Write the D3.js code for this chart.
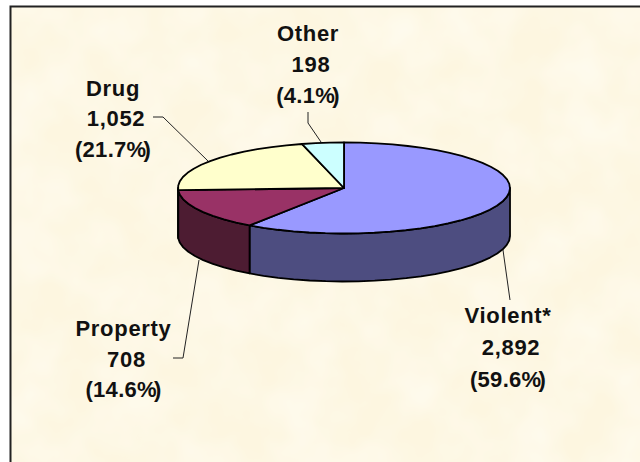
<!DOCTYPE html>
<html>
<head>
<meta charset="utf-8">
<script src="https://d3js.org/d3.v7.min.js"></script>
<style>
html, body { margin: 0; padding: 0; background: #fff; }
text { font-family: "Liberation Sans", Arial, sans-serif; font-weight: bold; font-size: 22px; fill: #111; text-anchor: middle; letter-spacing: 0.7px; }
</style>
</head>
<body>
<svg id="chart" width="640" height="462"></svg>
<script>
const categories = ['Violent*', 'Property', 'Drug', 'Other']
const counts = [2892, 708, 1052, 198]
const countLabels = ['2,892', '708', '1,052', '198']
const percentLabels = ['(59.6%)', '(14.6%)', '(21.7%)', '(4.1%)']
const topColors = ['#9999ff', '#993366', '#ffffcc', '#ccffff']
const sideColors = ['#4d4d80', '#4d1a33', '#80805f', '#668080']

const width = 640, height = 462
const cx = 344, cy = 188, rx = 166, ry = 45.5, depth = 48

const svg = d3.select('#chart')

// paper texture
const defs = svg.append('defs')
const paper = defs.append('filter').attr('id', 'paper')
    .attr('x', 0).attr('y', 0).attr('width', '100%').attr('height', '100%')
paper.append('feTurbulence').attr('type', 'fractalNoise')
    .attr('baseFrequency', 0.018).attr('numOctaves', 3).attr('seed', 7)
paper.append('feColorMatrix').attr('type', 'matrix')
    .attr('values', '0 0 0 0 1  0 0 0 0 0.99  0 0 0 0 0.93  1.0 0 0 0 -0.3')
const soft = defs.append('filter').attr('id', 'soft')
soft.append('feGaussianBlur').attr('stdDeviation', 0.35)

svg.append('rect').attr('x', 11).attr('y', 7).attr('width', width).attr('height', height).attr('fill', '#fdf6e0')
svg.append('rect').attr('x', 11).attr('y', 7).attr('width', width).attr('height', height).attr('filter', 'url(#paper)')
svg.append('path').attr('d', `M10.5,${height}V6.5H${width}`)
    .attr('fill', 'none').attr('stroke', '#222').attr('stroke-width', 2)

const pie = d3.pie().sort(null).value(d => d)
const slices = pie(counts)

// 0 is twelve o'clock, going clockwise, same as d3.pie
const px = a => cx + rx * Math.sin(a)
const py = a => cy - ry * Math.cos(a)
const line = d3.line()

// a little polygonal like the original rim
const rim = (a0, a1) => {
    const n = Math.max(1, Math.round((a1 - a0) / (Math.PI / 32)))
    return d3.range(n + 1).map(i => a0 + (a1 - a0) * i / n)
}

const g = svg.append('g').attr('filter', 'url(#soft)')

// walls, only the front half shows
slices.forEach((s, i) => {
    const a0 = Math.max(s.startAngle, Math.PI / 2)
    const a1 = Math.min(s.endAngle, Math.PI * 1.5)
    if (a1 <= a0) return
    const angles = rim(a0, a1)
    const upper = angles.map(a => [px(a), py(a)])
    const lower = angles.map(a => [px(a), py(a) + depth]).reverse()
    g.append('path')
        .attr('d', line(upper.concat(lower)) + 'Z')
        .attr('fill', sideColors[i])
        .attr('stroke', '#000').attr('stroke-width', 1.8).attr('stroke-linejoin', 'round')
})

// top face
slices.forEach((s, i) => {
    const pts = rim(s.startAngle, s.endAngle).map(a => [px(a), py(a)])
    g.append('path')
        .attr('d', line([[cx, cy]].concat(pts)) + 'Z')
        .attr('fill', topColors[i])
        .attr('stroke', '#000').attr('stroke-width', 1.8).attr('stroke-linejoin', 'round')
})

// leader lines, by eye
const leaders = [
    [[503, 250], [510, 300]],
    [[173, 358], [183, 358], [199, 260]],
    [[153, 117], [163, 117], [208, 161]],
    [[308, 112], [308, 123], [321, 142]]
]
svg.append('g').selectAll('path')
    .data(leaders)
    .enter()
    .append('path')
    .attr('d', d => line(d))
    .attr('fill', 'none')
    .attr('stroke', '#222')
    .attr('stroke-width', 1)

// labels: x center, then the three baselines
const labelPos = [[508, 323, 355, 387], [123.5, 336, 367, 397], [113, 96, 126, 157], [308, 41, 72, 103]]
const labels = svg.append('g').selectAll('g')
    .data(categories)
    .enter()
    .append('g')
    .attr('transform', (d, i) => `translate(${labelPos[i][0]},0)`)
labels.append('text').attr('y', (d, i) => labelPos[i][1]).text(d => d)
// middle line sits a bit right of the other two in the original
labels.append('text').attr('x', 3).attr('y', (d, i) => labelPos[i][2]).text((d, i) => countLabels[i])
// the closing bracket runs into the percent sign, so pull the last glyph back
labels.append('text')
    .attr('y', (d, i) => labelPos[i][3])
    .attr('dx', (d, i) => d3.range(percentLabels[i].length).map(k => k === percentLabels[i].length - 1 ? -3 : 0).join(' '))
    .style('letter-spacing', '0.3px')
    .text((d, i) => percentLabels[i])
</script>
</body>
</html>
